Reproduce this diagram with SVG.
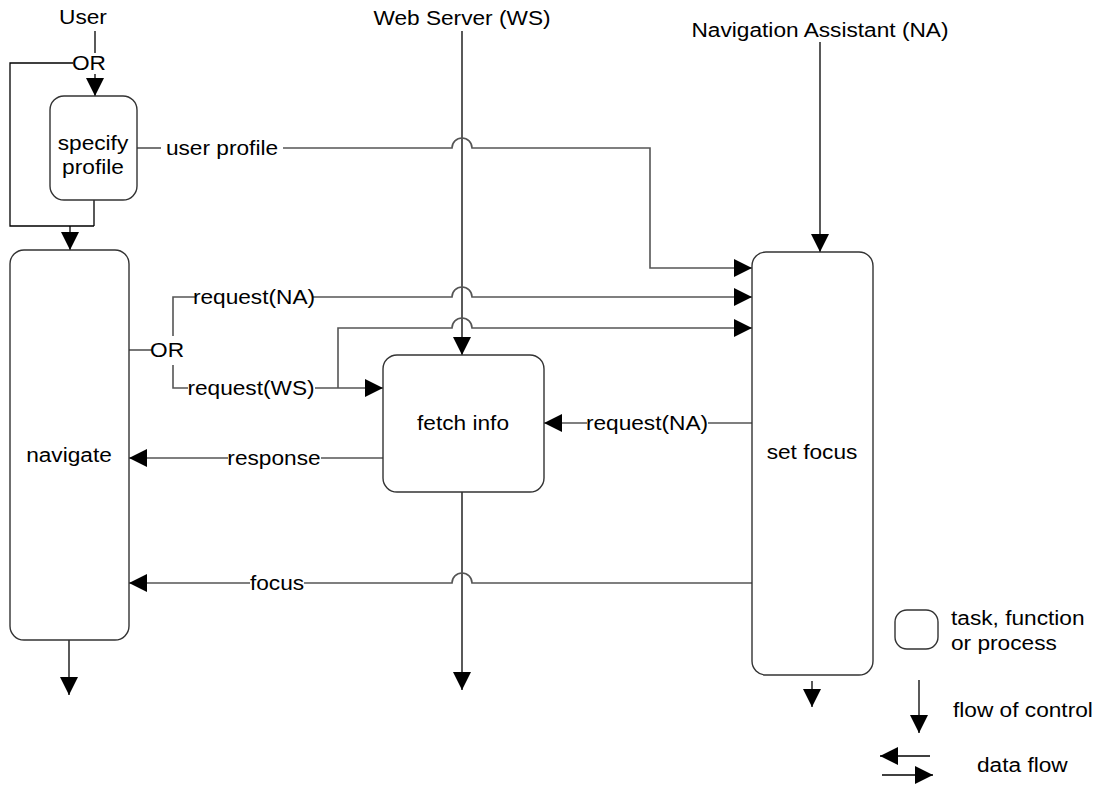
<svg xmlns="http://www.w3.org/2000/svg" width="1098" height="786" viewBox="0 0 1098 786">
<style>
text{font-family:"Liberation Sans",Arial,sans-serif;font-size:21px;fill:#000;transform-box:fill-box;transform-origin:center;transform:scaleX(1.08)}
.c{text-anchor:middle}
.l{transform-origin:left center}
.box{fill:#fff;stroke:#333;stroke-width:1.4}
.ctl{fill:none;stroke:#000;stroke-width:1.3}
.dat{fill:none;stroke:#555;stroke-width:1.6}
</style>
<defs>
<marker id="ah" markerUnits="userSpaceOnUse" markerWidth="20" markerHeight="20" viewBox="0 0 20 20" refX="18" refY="10" orient="auto">
<path d="M0 1 L18 10 L0 19 Z" fill="#000"/>
</marker>
</defs>
<rect width="1098" height="786" fill="#fff"/>

<g id="connectors">
<!-- control flows -->
<path class="ctl" d="M95 31 V53"/>
<path class="ctl" d="M95 74 V96" marker-end="url(#ah)"/>
<path class="ctl" d="M73 63 H10 V226 H94 M94 200 V226"/>
<path class="ctl" d="M70 226 V250" marker-end="url(#ah)"/>
<path class="ctl" d="M462 31 V355" marker-end="url(#ah)"/>
<path class="ctl" d="M820 42 V252" marker-end="url(#ah)"/>
<path class="ctl" d="M462 492 V690" marker-end="url(#ah)"/>
<path class="ctl" d="M69 640 V695" marker-end="url(#ah)"/>
<path class="ctl" d="M812 681 V707" marker-end="url(#ah)"/>
<!-- data flows -->
<path class="dat" d="M137 148 H161"/>
<path class="dat" d="M283 148 H452 A10 10 0 0 1 472 148 H650 V268 H752" marker-end="url(#ah)"/>
<path class="dat" d="M129 350 H152"/>
<path class="dat" d="M173 336 V297 H196"/>
<path class="dat" d="M173 365 V388 H188"/>
<path class="dat" d="M312 297 H452 A10 10 0 0 1 472 297 H752" marker-end="url(#ah)"/>
<path class="dat" d="M315 388 H383" marker-end="url(#ah)"/>
<path class="dat" d="M338 388 V328 H452 A10 10 0 0 1 472 328 H752" marker-end="url(#ah)"/>
<path class="dat" d="M752 423 H708"/>
<path class="dat" d="M587 423 H544" marker-end="url(#ah)"/>
<path class="dat" d="M383 458 H321"/>
<path class="dat" d="M228 458 H129" marker-end="url(#ah)"/>
<path class="dat" d="M752 583 H472 A10 10 0 0 0 452 583 H304"/>
<path class="dat" d="M250 583 H129" marker-end="url(#ah)"/>
</g>

<g id="labels">
<text class="c" x="83" y="24">User</text>
<text class="c" x="89" y="70">OR</text>
<text class="c" x="462" y="25">Web Server (WS)</text>
<text class="c" x="820" y="37">Navigation Assistant (NA)</text>
<text class="c" x="222" y="155">user profile</text>
<text class="c" x="254" y="304">request(NA)</text>
<text class="c" x="167" y="357">OR</text>
<text class="c" x="251" y="395">request(WS)</text>
<text class="c" x="647" y="430">request(NA)</text>
<text class="c" x="274" y="465">response</text>
<text class="c" x="277" y="590">focus</text>
</g>

<g id="specify-profile">
<rect class="box" x="50" y="96" width="87" height="104" rx="14"/>
<text class="c" x="93" y="150">specify</text>
<text class="c" x="93" y="174">profile</text>
</g>

<g id="navigate">
<rect class="box" x="10" y="250" width="119" height="390" rx="14"/>
<text class="c" x="69" y="462">navigate</text>
</g>

<g id="fetch-info">
<rect class="box" x="383" y="355" width="161" height="137" rx="14"/>
<text class="c" x="463" y="430">fetch info</text>
</g>

<g id="set-focus">
<rect class="box" x="752" y="252" width="121" height="423" rx="14"/>
<text class="c" x="812" y="459">set focus</text>
</g>

<g id="legend">
<rect class="box" x="895" y="610" width="43" height="39" rx="12"/>
<text class="l" x="951" y="625">task, function</text>
<text class="l" x="951" y="650">or process</text>
<path class="ctl" d="M919 680 V733" marker-end="url(#ah)"/>
<text class="l" x="953" y="717">flow of control</text>
<path class="ctl" d="M930 756 H880" marker-end="url(#ah)"/>
<path class="ctl" d="M882 775 H933" marker-end="url(#ah)"/>
<text class="l" x="977" y="772">data flow</text>
</g>
</svg>
